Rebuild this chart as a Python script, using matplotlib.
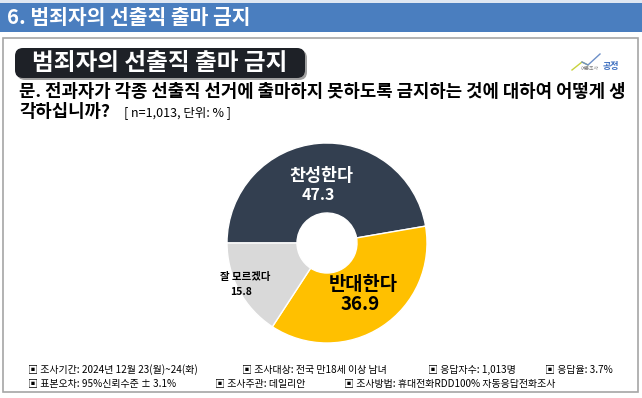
import matplotlib.pyplot as plt
from matplotlib.patches import Rectangle, FancyBboxPatch

plt.rcParams['font.family'] = ['Noto Sans CJK KR', 'DejaVu Sans']

# data
labels = ['찬성한다', '반대한다', '잘 모르겠다']
values = [47.3, 36.9, 15.8]
colors = ['#333f50', '#ffc000', '#d9d9d9']

header = '6. 범죄자의 선출직 출마 금지'
title = '범죄자의 선출직 출마 금지'
question1 = '문. 전과자가 각종 선출직 선거에 출마하지 못하도록 금지하는 것에 대하여 어떻게 생'
question2 = '각하십니까?'
unit_note = '[ n=1,013, 단위: % ]'
footer1 = ['▣ 조사기간: 2024년 12월 23(월)~24(화)', '▣ 조사대상: 전국 만18세 이상 남녀',
           '▣ 응답자수: 1,013명', '▣ 응답율: 3.7%']
footer2 = ['▣ 표본오차: 95%신뢰수준 ± 3.1%', '▣ 조사주관: 데일리안',
           '▣ 조사방법: 휴대전화RDD100% 자동응답전화조사']

W, H = 642, 398
fig = plt.figure(figsize=(W / 100, H / 100), dpi=100)

# donut (drawn under the overlay axes)
cx, cy, r = 327, 243, 100
ax = fig.add_axes([(cx - r) / W, (H - cy - r) / H, 2 * r / W, 2 * r / H])
ax.pie(values, colors=colors, startangle=180, counterclock=False, radius=1,
       wedgeprops=dict(width=0.7, edgecolor='white', linewidth=1))
ax.set_xlim(-1, 1)
ax.set_ylim(-1, 1)
ax.set_aspect('equal')
ax.axis('off')

bg = fig.add_axes([0, 0, 1, 1])
bg.set_xlim(0, W)
bg.set_ylim(H, 0)
bg.axis('off')
bg.patch.set_visible(False)

# header bar
bg.add_patch(Rectangle((0, 0), W, 3, color='#dfe7f2', lw=0))
bg.add_patch(Rectangle((0, 3), W, 29, color='#4a7ebf', lw=0))
bg.text(7, 18, header, color='white', fontsize=14.7, fontweight='bold', va='center')

# frame
bg.add_patch(Rectangle((3, 38), 635, 354, fill=False, ec='#a6a6a6', lw=1.2))

# title box
bg.add_patch(FancyBboxPatch((17, 50), 290, 30, boxstyle='round,pad=0,rounding_size=8',
                            fc='#a0a0a0', ec='none'))
bg.add_patch(FancyBboxPatch((15, 48), 290, 30, boxstyle='round,pad=0,rounding_size=8',
                            fc='#1e2127', ec='none'))
bg.text(160, 63, title, color='white', fontsize=17, fontweight='bold',
        ha='center', va='center')

# logo
bg.plot([572, 582, 588], [70, 62, 65], color='#c8d23c', lw=1)
bg.plot([582, 588, 600], [62, 65, 54], color='#6d8fc8', lw=1)
bg.text(590, 68, '여론조사', fontsize=3.5, color='#7f7f7f', ha='center', va='center')
bg.text(603, 67, '공정', fontsize=6.5, color='#3d6fc0', fontweight='bold', ha='left', va='center')

# question
bg.text(19, 92, question1, fontsize=12.8, fontweight='bold', va='center')
bg.text(19, 112, question2, fontsize=12.8, fontweight='bold', va='center')
bg.text(124, 113, unit_note, fontsize=9, va='center')

# footer
for x, t in zip([28, 242, 428, 545], footer1):
    bg.text(x, 370, t, fontsize=7.2, va='center')
for x, t in zip([28, 215, 344], footer2):
    bg.text(x, 384, t, fontsize=7.2, va='center')

# slice labels
bg.text(321, 176, labels[0], color='white', fontsize=12.5, fontweight='bold', ha='center', va='center')
bg.text(318, 195, f'{values[0]}', color='white', fontsize=11.5, fontweight='bold', ha='center', va='center')
bg.text(363, 284, labels[1], color='black', fontsize=13.5, fontweight='bold', ha='center', va='center')
bg.text(360, 304, f'{values[1]}', color='black', fontsize=13.5, fontweight='bold', ha='center', va='center')
bg.text(245, 277, labels[2], color='black', fontsize=7.5, fontweight='bold', ha='center', va='center')
bg.text(241, 292, f'{values[2]}', color='black', fontsize=7.5, fontweight='bold', ha='center', va='center')

fig.savefig('out.png', dpi=100)
